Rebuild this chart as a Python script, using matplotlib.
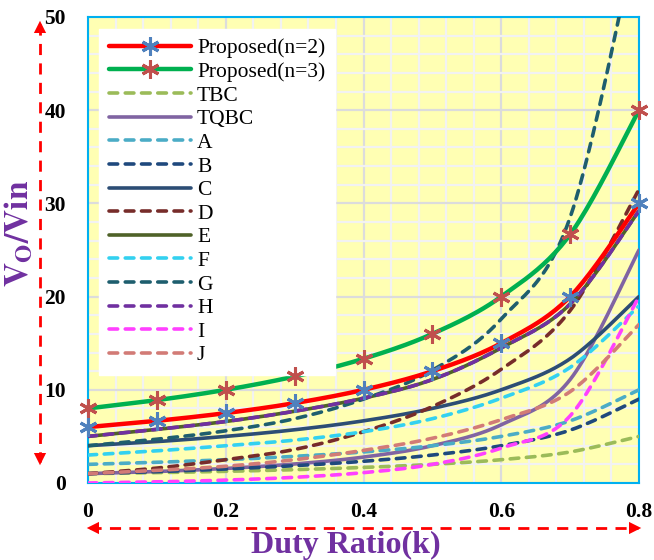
import numpy as np
import matplotlib
matplotlib.use("Agg")
import matplotlib.pyplot as plt
from matplotlib.lines import Line2D

plt.rcParams['font.family'] = ['Liberation Serif', 'DejaVu Serif']
plt.rcParams['mathtext.fontset'] = 'stix'

# ---------------- data ----------------
k = [0.0, 0.1, 0.2, 0.3, 0.4, 0.5, 0.6, 0.7, 0.8]
prop_n2 = [6.0, 6.67, 7.5, 8.57, 10.0, 12.0, 15.0, 20.0, 30.0]
prop_n3 = [8.0, 8.89, 10.0, 11.43, 13.33, 16.0, 20.0, 26.67, 40.0]
tbc = [1.0, 1.11, 1.25, 1.43, 1.67, 2.0, 2.5, 3.33, 5.0]
tqbc = [1.0, 1.23, 1.56, 2.04, 2.78, 4.0, 6.25, 11.1, 25.0]
ser_a = [2.0, 2.22, 2.5, 2.86, 3.33, 4.0, 5.0, 6.67, 10.0]
ser_b = [1.0, 1.22, 1.5, 1.86, 2.33, 3.0, 4.0, 5.67, 9.0]
ser_c = [4.0, 4.44, 5.0, 5.71, 6.67, 8.0, 10.0, 13.33, 20.0]
ser_d = [1.0, 1.6, 2.5, 3.6, 5.5, 8.2, 12.2, 18.5, 31.5]
ser_e = [5.0, 5.75, 6.6, 7.7, 9.1, 11.1, 14.5, 19.2, 29.2]
ser_f = [3.0, 3.45, 4.0, 4.6, 5.5, 6.9, 9.1, 12.4, 19.0]
ser_g = [4.0, 4.7, 5.6, 6.9, 9.0, 12.1, 17.6, 28.5, 60.0]
ser_h = [5.0, 5.75, 6.6, 7.7, 9.1, 11.1, 14.5, 19.2, 29.2]
ser_i = [0.0, 0.12, 0.31, 0.61, 1.11, 2.0, 3.75, 7.2, 20.0]
ser_j = [1.0, 1.35, 1.8, 2.5, 3.5, 4.8, 6.8, 9.8, 17.0]

xticks = [0, 0.2, 0.4, 0.6, 0.8]
xtick_labels = ['0', '0.2', '0.4', '0.6', '0.8']
yticks = [0, 10, 20, 30, 40, 50]
ytick_labels = ['0', '10', '20', '30', '40', '50']


def smooth(x, y, n=24):
    """Excel-like smoothed line (cubic Bezier, Catmull-Rom tangents)."""
    x = np.asarray(x, float)
    y = np.asarray(y, float)
    P = np.column_stack([x, y])
    out = [P[0]]
    t = np.linspace(0, 1, n)[1:]
    for i in range(len(P) - 1):
        p0 = P[i - 1] if i > 0 else P[i]
        p1, p2 = P[i], P[i + 1]
        p3 = P[i + 2] if i + 2 < len(P) else P[i + 1]
        c1 = p1 + (p2 - p0) / 6.0
        c2 = p2 - (p3 - p1) / 6.0
        for tt in t:
            b = ((1 - tt) ** 3) * p1 + 3 * ((1 - tt) ** 2) * tt * c1 \
                + 3 * (1 - tt) * tt ** 2 * c2 + tt ** 3 * p2
            out.append(b)
    out = np.array(out)
    return out[:, 0], out[:, 1]


fig = plt.figure(figsize=(6.54, 5.6), dpi=100)
ax = fig.add_axes([88 / 654, 77 / 560, 551 / 654, 466 / 560])
ax.set_facecolor('#FFFFB3')

DASH = (0, (2.4, 2.1))

series = [
    ('Proposed(n=2)', prop_n2, '#FF0000', '-', 3.2, '#4F81BD'),
    ('Proposed(n=3)', prop_n3, '#00B050', '-', 3.2, '#C0504D'),
    ('TBC', tbc, '#9BBB59', DASH, 2.6, None),
    ('TQBC', tqbc, '#8064A2', '-', 2.6, None),
    ('A', ser_a, '#4BACC6', DASH, 2.6, None),
    ('B', ser_b, '#1F497D', DASH, 2.6, None),
    ('C', ser_c, '#2C4D75', '-', 2.6, None),
    ('D', ser_d, '#772C2A', DASH, 2.6, None),
    ('E', ser_e, '#4F6228', '-', 2.6, None),
    ('F', ser_f, '#33D1F0', DASH, 2.6, None),
    ('G', ser_g, '#1E5E6E', DASH, 2.6, None),
    ('H', ser_h, '#7030A0', DASH, 2.6, None),
    ('I', ser_i, '#FF40FF', DASH, 2.6, None),
    ('J', ser_j, '#D27B76', DASH, 2.6, None),
]

order = [2, 3, 4, 5, 6, 7, 8, 9, 10, 11, 12, 13, 0, 1]
handles = {}
for idx in order:
    name, vals, col, ls, lw, mcol = series[idx]
    xs, ys = smooth(k, vals)
    ax.plot(xs, ys, color=col, linestyle=ls, lw=lw,
            dash_capstyle='round', solid_capstyle='round', zorder=3 + (idx < 2))
    if mcol is not None:
        ax.plot(k, vals, linestyle='none', marker=(6, 2, 0), markersize=13,
                markeredgecolor=mcol, markeredgewidth=2.2, zorder=6, clip_on=False)
        handles[idx] = Line2D([0], [0], color=col, lw=lw, marker=(6, 2, 0),
                              markersize=13, markeredgecolor=mcol, markeredgewidth=2.2,
                              solid_capstyle='round')
    else:
        handles[idx] = Line2D([0], [0], color=col, lw=lw, linestyle=ls,
                              dash_capstyle='round', solid_capstyle='round')

ax.set_xlim(0, 0.8)
ax.set_ylim(0, 50)

# grid
ax.set_xticks(np.arange(0, 0.8001, 0.04), minor=True)
ax.set_yticks(np.arange(0, 50.001, 2), minor=True)
ax.set_xticks(xticks)
ax.set_xticklabels(xtick_labels)
ax.set_yticks(yticks)
ax.set_yticklabels(ytick_labels)
ax.grid(which='minor', color='#F2F2F2', lw=1.6, zorder=0)
ax.grid(which='major', color='#DCDCDC', lw=1.6, zorder=0)
ax.set_axisbelow(True)
ax.tick_params(which='both', length=0)
ax.tick_params(axis='x', pad=14, labelsize=15.5)
ax.tick_params(axis='y', pad=16, labelsize=15.5)
for lab in ax.get_xticklabels() + ax.get_yticklabels():
    lab.set_fontweight('bold')

for sp in ax.spines.values():
    sp.set_color('#00B0F0')
    sp.set_linewidth(1.5)

# legend
leg_handles = [handles[i] for i in range(len(series))]
leg_labels = [s[0] for s in series]
leg = ax.legend(leg_handles, leg_labels, loc='upper left',
                bbox_to_anchor=(0.02, 0.975), borderaxespad=0,
                fontsize=15.5, handlelength=3.8, handletextpad=0.3,
                labelspacing=0.165, frameon=True, fancybox=False,
                borderpad=0.45)
leg.get_frame().set_facecolor('white')
leg.get_frame().set_edgecolor('white')
leg.get_frame().set_alpha(1)
leg.set_zorder(5)

# axis titles
fig.text(19 / 654, 1 - 233 / 560, r'$\mathbf{V_O/Vin}$', rotation=90,
         ha='center', va='center', fontsize=24, color='#7030A0')
fig.text(346 / 654, 1 - 545 / 560, 'Duty Ratio(k)', ha='center', va='center',
         fontsize=23, fontweight='bold', color='#7030A0')

# red dashed double arrows
H = 560
def farrow(x0, y0, x1, y1):
    fig.add_artist(Line2D([x0 / 654, x1 / 654], [1 - y0 / H, 1 - y1 / H],
                          transform=fig.transFigure, color='red', lw=2,
                          linestyle=(0, (4, 3))))
    for (xa, ya, xb, yb) in [(x0, y0, x1, y1), (x1, y1, x0, y0)]:
        d = np.array([xb - xa, yb - ya], float)
        d /= np.hypot(*d)
        tip = np.array([xa, ya]) - d * 6
        base = tip + d * 14
        fig.add_artist(matplotlib.patches.FancyArrowPatch(
            posA=(base[0] / 654, 1 - base[1] / H), posB=(tip[0] / 654, 1 - tip[1] / H),
            transform=fig.transFigure, arrowstyle='-|>', mutation_scale=22,
            color='red', lw=0))

farrow(40, 24, 40, 462)
farrow(90, 528, 638, 528)

fig.savefig('out.png', dpi=100)
